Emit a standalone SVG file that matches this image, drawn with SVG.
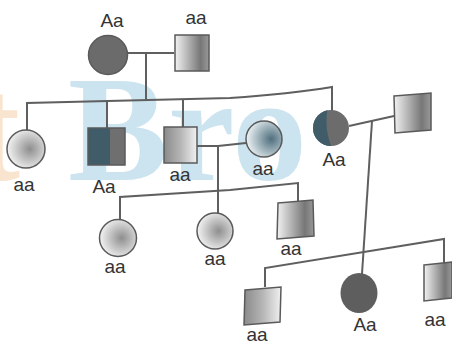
<svg xmlns="http://www.w3.org/2000/svg" width="452" height="345" viewBox="0 0 452 345">
<defs>
<linearGradient id="sqR" x1="0" y1="0" x2="1" y2="0">
<stop offset="0" stop-color="#f2f2f2"/><stop offset="0.75" stop-color="#777"/><stop offset="1" stop-color="#999"/>
</linearGradient>
<linearGradient id="sqL" x1="0" y1="0" x2="1" y2="0">
<stop offset="0" stop-color="#8a8a8a"/><stop offset="0.5" stop-color="#b5b5b5"/><stop offset="1" stop-color="#f0f0f0"/>
</linearGradient>
<radialGradient id="cg" cx="0.6" cy="0.5" r="0.6">
<stop offset="0" stop-color="#8e8e8e"/><stop offset="1" stop-color="#f4f4f4"/>
</radialGradient>
<radialGradient id="cb" cx="0.7" cy="0.5" r="0.7">
<stop offset="0" stop-color="#4f6f7d"/><stop offset="1" stop-color="#eef5f8"/>
</radialGradient>
<clipPath id="c5"><circle cx="331" cy="128" r="18"/></clipPath>
<style>
.ln{fill:none;stroke:#5f5f5f;stroke-width:2}
.sh{stroke:#5a5a5a;stroke-width:1.5}
.lb{font-family:"Liberation Sans",Arial,sans-serif;font-size:19px;fill:#333;text-anchor:middle}
.wm{font-family:"Liberation Serif","Times New Roman",serif;font-weight:bold;font-size:150px}
</style>
</defs>
<rect width="452" height="345" fill="#fff"/>
<g id="watermark" opacity="0.4">
<text class="wm" x="-30" y="180" fill="#f2c089">t</text>
<text class="wm" x="68" y="180" fill="#7fbcd8">Bro</text>
</g>
<g id="connectors">
<path class="ln" d="M127 53 H174"/>
<path class="ln" d="M146 53 V101"/>
<path class="ln" d="M27 130 V103 L230 98 Q290 94 332 87 V111"/>
<path class="ln" d="M107 101 V128"/>
<path class="ln" d="M183 100 V127"/>
<path class="ln" d="M197 146 H218 L246 143"/>
<path class="ln" d="M218 146 V213"/>
<path class="ln" d="M120 219 V197 L230 190 L298 183 V201"/>
<path class="ln" d="M349 126 L394 116"/>
<path class="ln" d="M372 121 L362 274"/>
<path class="ln" d="M265 287 V268 L444 239 V263"/>
</g>
<g id="I-1"><circle class="sh" cx="108" cy="55" r="19.5" fill="#6b6b6b"/><text class="lb" x="112" y="27">Aa</text></g>
<g id="I-2"><rect class="sh" x="175" y="35" width="34" height="36" fill="url(#sqR)"/><text class="lb" x="196" y="24">aa</text></g>
<g id="II-1"><circle class="sh" cx="26" cy="149" r="19" fill="url(#cg)"/><text class="lb" x="24" y="191">aa</text></g>
<g id="II-2"><rect x="88" y="128" width="22" height="37" fill="#3f5c68"/><rect x="110" y="128" width="15" height="37" fill="#6f6f6f"/><rect class="sh" x="88" y="128" width="37" height="37" fill="none"/><text class="lb" x="104" y="193">Aa</text></g>
<g id="II-3"><rect class="sh" x="164" y="127" width="33" height="36" fill="url(#sqL)"/><text class="lb" x="180" y="181">aa</text></g>
<g id="II-4"><circle class="sh" cx="264" cy="139" r="18" fill="url(#cb)"/><text class="lb" x="263" y="175">aa</text></g>
<g id="II-5"><circle cx="331" cy="128" r="18" fill="#6c6c6c"/><path clip-path="url(#c5)" d="M300 100 H330 Q320 130 338 160 H300 Z" fill="#3f5c68"/><text class="lb" x="334" y="166">Aa</text></g>
<g id="II-6"><path class="sh" d="M394 96 L431 93 L431 130 L395 133 Z" fill="url(#sqR)"/></g>
<g id="III-1"><circle class="sh" cx="118" cy="238" r="18.5" fill="url(#cg)"/><text class="lb" x="115" y="273">aa</text></g>
<g id="III-2"><circle class="sh" cx="215" cy="231" r="18" fill="url(#cg)"/><text class="lb" x="215" y="265">aa</text></g>
<g id="III-3"><path class="sh" d="M278 203 L313 200 L314 236 L277 239 Z" fill="url(#sqR)"/><text class="lb" x="291" y="255">aa</text></g>
<g id="IV-1"><path class="sh" d="M245 290 L281 287 L280 322 L244 325 Z" fill="url(#sqL)"/><text class="lb" x="257" y="341">aa</text></g>
<g id="IV-2"><ellipse cx="359" cy="293" rx="18.5" ry="20" fill="#5e5e5e"/><text class="lb" x="365" y="331">Aa</text></g>
<g id="IV-3"><path class="sh" d="M424 265 L452 262 L452 298 L424 301 Z" fill="url(#sqR)"/><text class="lb" x="435" y="326">aa</text></g>
</svg>
